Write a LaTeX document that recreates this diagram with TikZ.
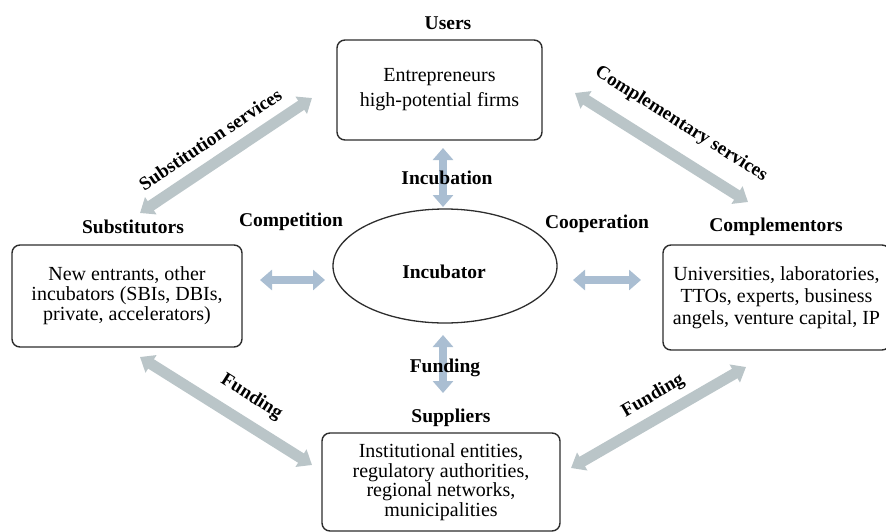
\documentclass[tikz,border=0pt]{standalone}
\usepackage{fontspec}
\setmainfont{Liberation Serif}
\usetikzlibrary{arrows.meta,shapes.geometric}
\definecolor{diagc}{RGB}{186,197,200}
\definecolor{axisc}{RGB}{170,190,210}
\definecolor{edgec}{RGB}{45,45,45}
\begin{document}
\begin{tikzpicture}[x=1pt,y=-1pt,
  lbl/.style={font=\bfseries\fontsize{19.5}{23}\selectfont, text=black, inner sep=1pt},
  slbl/.style={font=\bfseries\fontsize{19}{23}\selectfont, text=black, sloped, inner sep=2pt},
  boxnode/.style={draw=edgec, line width=1.4pt, rounded corners=8pt, align=center, inner sep=0pt},
  diag/.style={draw=diagc, line width=11pt, {Triangle[length=13pt,width=20pt]}-{Triangle[length=13pt,width=20pt]}},
  axisarrow/.style={draw=axisc, line width=8pt, {Triangle[length=12pt,width=20pt]}-{Triangle[length=12pt,width=20pt]}}]
\useasboundingbox (0,0) rectangle (886,531);
\clip (0,0) rectangle (886,531);

% boxes of the four actors
\node[boxnode, minimum width=205pt, minimum height=100pt,
      font=\fontsize{20}{25}\selectfont] (users) at (439.5,90)
      {Entrepreneurs\\high-potential firms};
\node[boxnode, minimum width=230pt, minimum height=102pt,
      font=\fontsize{20}{20}\selectfont] (subst) at (127,296)
      {New entrants, other\\incubators (SBIs, DBIs,\\private, accelerators)};
\node[boxnode, minimum width=227pt, minimum height=105pt,
      font=\fontsize{20}{22}\selectfont] (compl) at (776.5,297.5)
      {Universities, laboratories,\\TTOs, experts, business\\angels, venture capital, IP};
\node[boxnode, minimum width=238pt, minimum height=98pt,
      font=\fontsize{20}{19.5}\selectfont] (suppl) at (441,482)
      {Institutional entities,\\regulatory authorities,\\regional networks,\\municipalities};

% central incubator
\node[ellipse, draw=edgec, line width=1.3pt, minimum width=224pt, minimum height=114pt] (incub) at (445,266) {};
\node[lbl] (incubtxt) at (444,272) {Incubator};

% arrow end points
\coordinate (incA) at (443,148);  \coordinate (incB) at (443,207);
\coordinate (funA) at (443,335);  \coordinate (funB) at (443,393);
\coordinate (cmpA) at (260,280);  \coordinate (cmpB) at (325,280);
\coordinate (copA) at (573,280);  \coordinate (copB) at (641,280);
\coordinate (ssA) at (140,213);   \coordinate (ssB) at (312,98);
\coordinate (csA) at (575,93);    \coordinate (csB) at (748,202);
\coordinate (flA) at (140,357);   \coordinate (flB) at (312,465);
\coordinate (frA) at (571,468);   \coordinate (frB) at (746,367);

% straight relations around the incubator
\draw[axisarrow] (incA) -- (incB);
\draw[axisarrow] (funA) -- (funB);
\draw[axisarrow] (cmpA) -- (cmpB);
\draw[axisarrow] (copA) -- (copB);

% diagonal relations between actors
\draw[diag] (ssA) -- node[slbl, pos=0.48, above=8pt] (sslbl) {Substitution services} (ssB);
\draw[diag] (csA) -- node[slbl, pos=0.52, above=14pt] (cslbl) {Complementary services} (csB);
\draw[diag] (flA) -- node[slbl, pos=0.57, above=9pt] (fllbl) {Funding} (flB);
\draw[diag] (frA) -- node[slbl, pos=0.53, above=5pt] (frlbl) {Funding} (frB);

% labels
\node[lbl] (userslbl) at (448,23) {Users};
\node[lbl] (incublbl) at (447,178) {Incubation};
\node[lbl] (fundlbl) at (445,368) {Funding};
\node[lbl] (suppllbl) at (451,418) {Suppliers};
\node[lbl] (substlbl) at (133,227) {Substitutors};
\node[lbl] (complbl) at (291,222) {Competition};
\node[lbl] (cooplbl) at (597,224) {Cooperation};
\node[lbl] (compllbl) at (776,227) {Complementors};
\end{tikzpicture}
\end{document}
